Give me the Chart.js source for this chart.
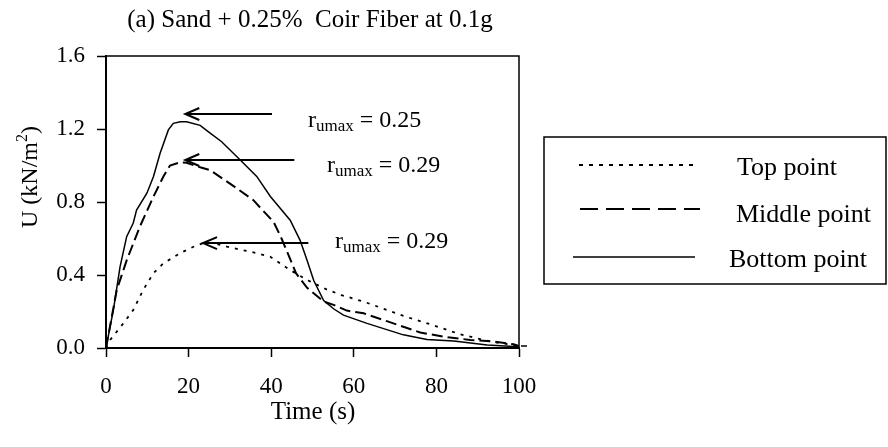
<!DOCTYPE html>
<html>
<head>
<meta charset="utf-8">
<script src="https://cdn.jsdelivr.net/npm/chart.js@4.4.1/dist/chart.umd.min.js"></script>
<style>
  html, body { margin: 0; padding: 0; background: #fff; }
  #wrap { width: 888px; height: 447px; }
</style>
</head>
<body>
<div id="wrap"><canvas id="c" width="888" height="447"></canvas></div>
<script>
// ---- data ----
const seriesNames = ['Top point', 'Middle point', 'Bottom point'];

const timeTop = [0, 1, 4.2, 6.6, 9, 11.5, 13.9, 17.9, 21.2, 23.6, 26, 29.3, 34.9, 39.8, 44.6, 48.7, 53.5, 57, 62.4, 66, 72.1, 78.5, 85.8, 93.1, 98.7, 100];
const uTop    = [0, 0.044, 0.135, 0.208, 0.318, 0.41, 0.464, 0.519, 0.555, 0.575, 0.575, 0.555, 0.528, 0.5, 0.427, 0.373, 0.32, 0.29, 0.254, 0.225, 0.175, 0.13, 0.075, 0.035, 0.016, 0.01];

const timeMid = [0, 2.6, 5, 8.2, 11.5, 13.9, 15.5, 17.9, 19.5, 22.8, 25.2, 30.9, 35.7, 37.3, 40.6, 42.5, 44, 46, 48.7, 52.7, 55.1, 58.3, 62.4, 68, 76.1, 81.8, 88.2, 93.9, 98.7, 100];
const uMid    = [0, 0.318, 0.48, 0.665, 0.83, 0.94, 1.0, 1.017, 1.015, 0.99, 0.975, 0.887, 0.81, 0.77, 0.69, 0.6, 0.52, 0.41, 0.33, 0.255, 0.236, 0.205, 0.19, 0.147, 0.085, 0.062, 0.044, 0.035, 0.02, 0.01];

const timeBot = [0, 1.8, 3.4, 5, 6.6, 7.4, 9.9, 11.5, 13.1, 15.1, 16.3, 18, 19.5, 22.8, 24.5, 28, 32.5, 36.5, 39.8, 44.6, 47, 48.7, 50.3, 52.7, 55.1, 57.5, 63.2, 72, 77.7, 84.2, 92.3, 98.7, 100];
const uBot    = [0, 0.21, 0.445, 0.61, 0.685, 0.756, 0.848, 0.94, 1.067, 1.195, 1.231, 1.24, 1.24, 1.22, 1.19, 1.13, 1.03, 0.94, 0.83, 0.70, 0.59, 0.48, 0.37, 0.26, 0.215, 0.18, 0.135, 0.072, 0.047, 0.038, 0.016, 0.008, 0.005];

const xTicks = [0, 20, 40, 60, 80, 100];
const yTicks = [0.0, 0.4, 0.8, 1.2, 1.6];

// r_umax annotations: arrow tail/tip in data units, label text
const rumaxValues = ['0.25', '0.29', '0.29'];
const arrowTailX  = [40.2, 45.6, 49.0];
const arrowTipX   = [19.2, 19.2, 23.5];
const arrowY      = [1.282, 1.03, 0.575];

const titleText = '(a) Sand + 0.25%  Coir Fiber at 0.1g';
const xTitle = 'Time (s)';

// ---- build ----
const pts = (xs, ys) => xs.map((x, i) => ({ x: x, y: ys[i] }));
const FONT = '"Liberation Serif", "Times New Roman", serif';

const overlay = {
  id: 'overlay',
  afterDraw(chart) {
    const ctx = chart.ctx;
    const xs = chart.scales.x, ys = chart.scales.y;
    const a = chart.chartArea;
    ctx.save();
    ctx.fillStyle = '#000';
    ctx.strokeStyle = '#000';

    // plot frame top and right
    ctx.lineWidth = 1.5;
    ctx.beginPath();
    ctx.moveTo(a.left, a.top); ctx.lineTo(a.right, a.top); ctx.lineTo(a.right, a.bottom);
    ctx.stroke();
    // small tick mark right of the frame at zero level
    ctx.beginPath(); ctx.moveTo(a.right + 2, a.bottom - 2); ctx.lineTo(a.right + 8, a.bottom - 2); ctx.stroke();

    // title
    ctx.font = '25px ' + FONT;
    ctx.textAlign = 'center';
    ctx.textBaseline = 'alphabetic';
    ctx.fillText(titleText, 310, 27);

    // x axis title
    ctx.font = '25px ' + FONT;
    ctx.fillText(xTitle, 313, 419);

    // y axis title (rotated)
    ctx.save();
    ctx.translate(37, 228);
    ctx.rotate(-Math.PI / 2);
    ctx.textAlign = 'left';
    ctx.font = '24px ' + FONT;
    const p1 = 'U (kN/m';
    ctx.fillText(p1, 0, 0);
    let w = ctx.measureText(p1).width;
    ctx.font = '16px ' + FONT;
    ctx.fillText('2', w, -10);
    w += ctx.measureText('2').width;
    ctx.font = '24px ' + FONT;
    ctx.fillText(')', w, 0);
    ctx.restore();

    // arrows
    ctx.lineWidth = 2;
    for (let i = 0; i < rumaxValues.length; i++) {
      const y = ys.getPixelForValue(arrowY[i]);
      const x0 = xs.getPixelForValue(arrowTailX[i]);
      const x1 = xs.getPixelForValue(arrowTipX[i]);
      ctx.beginPath();
      ctx.moveTo(x0, y); ctx.lineTo(x1, y);
      ctx.moveTo(x1 + 14, y - 6); ctx.lineTo(x1, y); ctx.lineTo(x1 + 14, y + 6);
      ctx.stroke();
    }

    // r_umax labels
    const labelPos = [[308, 127], [327, 172], [335, 248]];
    ctx.textAlign = 'left';
    for (let i = 0; i < rumaxValues.length; i++) {
      const [lx, ly] = labelPos[i];
      ctx.font = '24px ' + FONT;
      ctx.fillText('r', lx, ly);
      let ww = ctx.measureText('r').width;
      ctx.font = '17px ' + FONT;
      ctx.fillText('umax', lx + ww, ly + 4);
      ww += ctx.measureText('umax').width;
      ctx.font = '24px ' + FONT;
      ctx.fillText(' = ' + rumaxValues[i], lx + ww, ly);
    }

    // legend box
    ctx.lineWidth = 1.5;
    ctx.strokeRect(544, 137, 342, 147);
    const legLines = [[579, 697, 165], [580, 700, 209], [573, 695, 257]];
    const legText = [[737, 175], [736, 222], [729, 267]];
    chart.data.datasets.forEach((ds, i) => {
      const [lx0, lx1, ly] = legLines[i];
      ctx.save();
      ctx.lineWidth = ds.borderWidth;
      ctx.setLineDash(i === 0 ? [4, 6] : i === 1 ? [18, 8] : []);
      ctx.beginPath(); ctx.moveTo(lx0, ly); ctx.lineTo(lx1, ly); ctx.stroke();
      ctx.restore();
      ctx.font = '26px ' + FONT;
      ctx.fillText(ds.label, legText[i][0], legText[i][1]);
    });
    ctx.restore();
  }
};

new Chart(document.getElementById('c'), {
  type: 'line',
  data: {
    datasets: [
      { label: seriesNames[0], data: pts(timeTop, uTop), borderColor: '#000', borderWidth: 1.8, borderDash: [3, 6], pointRadius: 0, tension: 0, fill: false },
      { label: seriesNames[1], data: pts(timeMid, uMid), borderColor: '#000', borderWidth: 2, borderDash: [11, 5], pointRadius: 0, tension: 0, fill: false },
      { label: seriesNames[2], data: pts(timeBot, uBot), borderColor: '#000', borderWidth: 1.5, pointRadius: 0, tension: 0, fill: false }
    ]
  },
  options: {
    responsive: false,
    devicePixelRatio: 1,
    animation: false,
    layout: { padding: { top: 56, left: 0, right: 369, bottom: 0 } },
    plugins: { legend: { display: false }, title: { display: false }, tooltip: { enabled: false } },
    scales: {
      x: {
        type: 'linear', min: 0, max: 100,
        afterFit(s) { s.height = 99; },
        afterBuildTicks(s) { s.ticks = xTicks.map(v => ({ value: v })); },
        grid: { drawOnChartArea: false, drawTicks: true, tickLength: 9, color: '#000', tickWidth: 1.5 },
        border: { display: true, color: '#000', width: 2 },
        ticks: { color: '#000', font: { family: FONT, size: 23 }, padding: 16, maxRotation: 0 }
      },
      y: {
        type: 'linear', min: 0, max: 1.6,
        afterFit(s) { s.width = 106; },
        afterBuildTicks(s) { s.ticks = yTicks.map(v => ({ value: v })); },
        grid: { drawOnChartArea: false, drawTicks: true, tickLength: 9, color: '#000', tickWidth: 1.5 },
        border: { display: true, color: '#000', width: 2 },
        ticks: { color: '#000', font: { family: FONT, size: 23 }, padding: 12, callback: v => Number(v).toFixed(1) }
      }
    }
  },
  plugins: [overlay]
});
</script>
</body>
</html>
